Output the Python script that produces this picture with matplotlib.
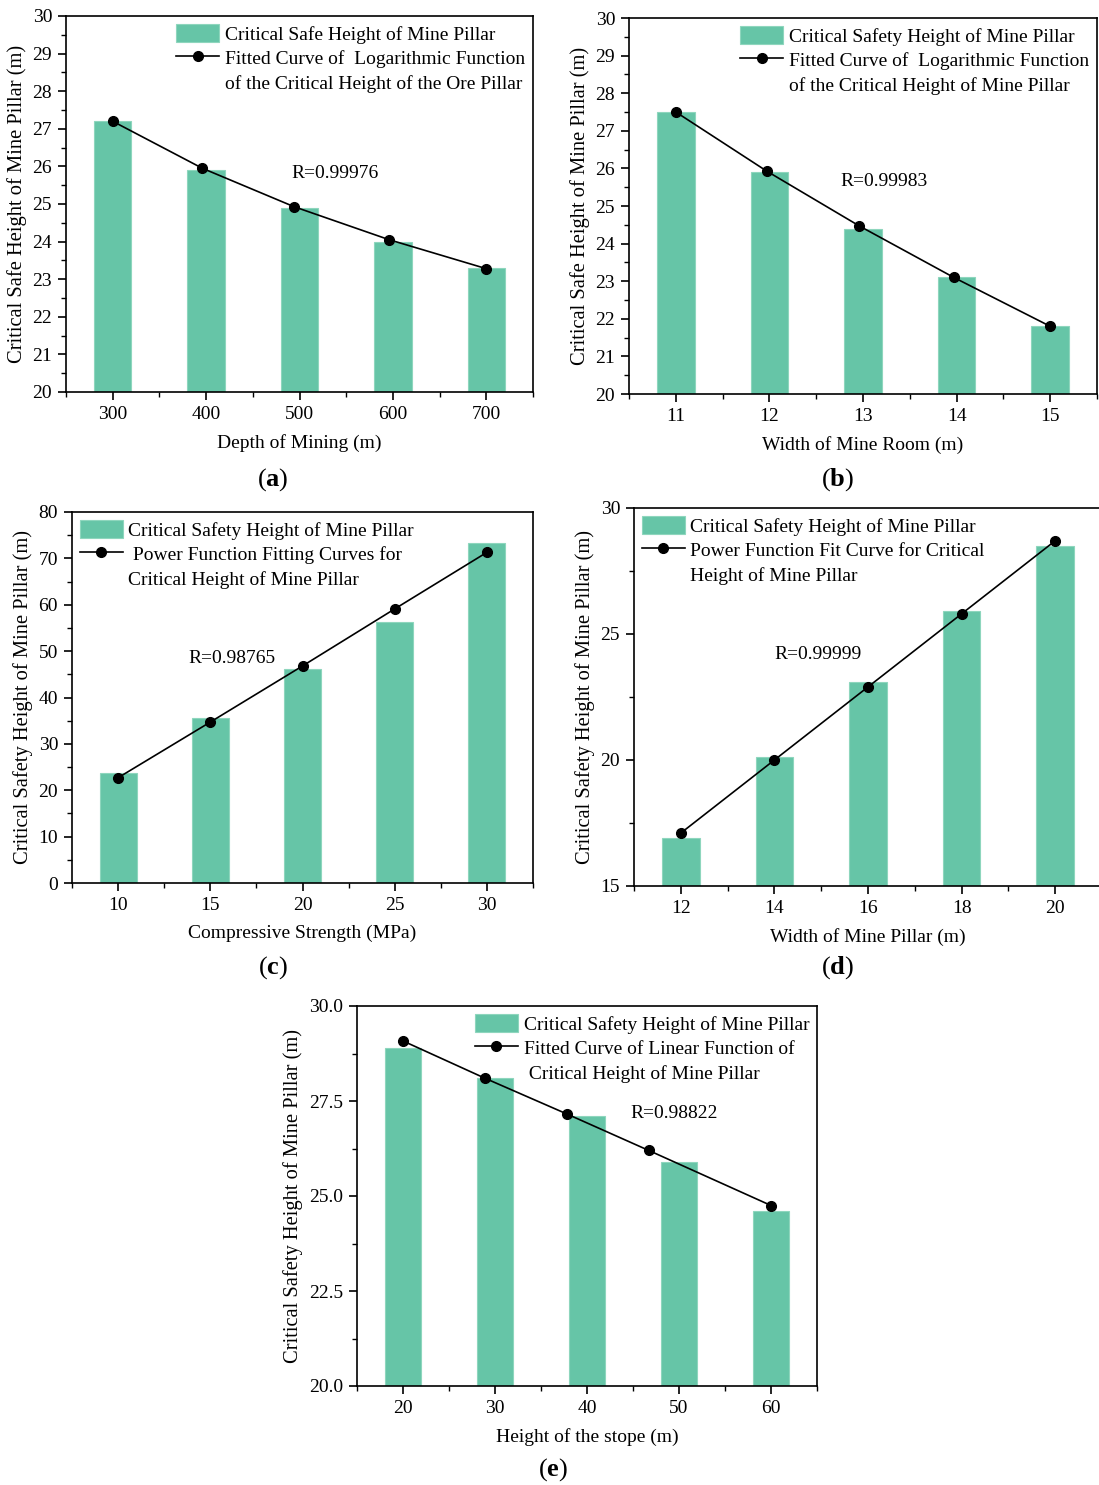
import matplotlib
matplotlib.use("Agg")
import matplotlib.pyplot as plt
from matplotlib.ticker import MultipleLocator
from matplotlib.lines import Line2D

plt.rcParams['font.family'] = ['Liberation Serif', 'DejaVu Serif']
plt.rcParams['mathtext.fontset'] = 'custom'
plt.rcParams['mathtext.bf'] = 'Liberation Serif:bold'
plt.rcParams['mathtext.rm'] = 'Liberation Serif'

# (a) depth of mining
depth = [300, 400, 500, 600, 700]
height_a = [27.2, 25.9, 24.9, 24.0, 23.3]
fit_x_a = [300, 396, 494, 596, 700]
fit_a = [27.2, 25.95, 24.93, 24.05, 23.28]

# (b) width of mine room
room = [11, 12, 13, 14, 15]
height_b = [27.5, 25.9, 24.4, 23.1, 21.8]
fit_x_b = [11, 11.97, 12.96, 13.97, 15]
fit_b = [27.5, 25.93, 24.47, 23.1, 21.8]

# (c) compressive strength
strength = [10, 15, 20, 25, 30]
height_c = [23.7, 35.5, 46.2, 56.3, 73.4]
fit_x_c = [10, 15, 20, 25, 30]
fit_c = [22.7, 34.7, 46.8, 59.1, 71.3]

# (d) width of mine pillar
pillar = [12, 14, 16, 18, 20]
height_d = [16.9, 20.1, 23.1, 25.9, 28.5]
fit_x_d = [12, 14, 16, 18, 20]
fit_d = [17.1, 20.0, 22.9, 25.8, 28.7]

# (e) height of the stope
stope = [20, 30, 40, 50, 60]
height_e = [28.9, 28.1, 27.1, 25.9, 24.6]
fit_x_e = [20, 28.9, 37.8, 46.7, 60]
fit_e = [29.08, 28.1, 27.16, 26.2, 24.75]

bar_color = '#66c5a7'
W, H = 1099, 1485
fig = plt.figure(figsize=(W / 100, H / 100), dpi=100)


def box(l, t, r, b):
    return [l / W, 1 - b / H, (r - l) / W, (b - t) / H]


def panel(rect, x, y, fx, fy, width, xlim, ylim, xmaj, ymaj, ymin,
          xlabel, ylabel, labels, r_text, r_pos, leg_loc, leg_anchor):
    ax = fig.add_axes(box(*rect))
    bars = ax.bar(x, y, width=width, color=bar_color, edgecolor='#8ed6bd',
                  linewidth=0.8, zorder=2)
    line, = ax.plot(fx, fy, color='black', lw=1.2, marker='o', ms=7,
                    zorder=3)
    ax.set_xlim(*xlim)
    ax.set_ylim(*ylim)
    ax.xaxis.set_major_locator(MultipleLocator(xmaj))
    ax.xaxis.set_minor_locator(MultipleLocator(xmaj / 2))
    ax.yaxis.set_major_locator(MultipleLocator(ymaj))
    ax.yaxis.set_minor_locator(MultipleLocator(ymin))
    ax.tick_params(which='major', direction='out', length=6, width=1.2,
                   labelsize=14, pad=4)
    ax.tick_params(which='minor', direction='out', length=3.5, width=1.0)
    for s in ax.spines.values():
        s.set_linewidth(1.2)
    ax.set_xlabel(xlabel, fontsize=14, labelpad=8)
    ax.set_ylabel(ylabel, fontsize=14.8, labelpad=4)
    ax.text(r_pos[0], r_pos[1], r_text, fontsize=14, va='center', ha='left')
    # second line of the fit label sits on its own row with no handle
    blank = Line2D([], [], linestyle='none')
    ax.legend([bars, line, blank], labels, loc=leg_loc,
              bbox_to_anchor=leg_anchor, frameon=False, fontsize=14,
              handlelength=2.2, handleheight=1.1, handletextpad=0.3,
              labelspacing=0.23, borderpad=0.3, borderaxespad=0.1)
    return ax


panel((66, 16, 533, 392), depth, height_a, fit_x_a, fit_a, 40,
      (250, 750), (20, 30), 100, 1, 0.5,
      'Depth of Mining (m)', 'Critical Safe Height of Mine Pillar (m)',
      ['Critical Safe Height of Mine Pillar',
       'Fitted Curve of  Logarithmic Function',
       'of the Critical Height of the Ore Pillar'],
      'R=0.99976', (491, 25.8), 'upper right', (1.0, 1.0))

panel((629, 18, 1097, 394), room, height_b, fit_x_b, fit_b, 0.4,
      (10.5, 15.5), (20, 30), 1, 1, 0.5,
      'Width of Mine Room (m)', 'Critical Safe Height of Mine Pillar (m)',
      ['Critical Safety Height of Mine Pillar',
       'Fitted Curve of  Logarithmic Function',
       'of the Critical Height of Mine Pillar'],
      'R=0.99983', (12.76, 25.66), 'upper right', (1.0, 1.0))

panel((72, 512, 533, 883), strength, height_c, fit_x_c, fit_c, 2,
      (7.5, 32.5), (0, 80), 5, 10, 5,
      'Compressive Strength (MPa)', 'Critical Safety Height of Mine Pillar (m)',
      ['Critical Safety Height of Mine Pillar',
       ' Power Function Fitting Curves for',
       'Critical Height of Mine Pillar'],
      'R=0.98765', (13.8, 48.5), 'upper left', (0.0, 1.0))

panel((634, 508, 1102, 886), pillar, height_d, fit_x_d, fit_d, 0.8,
      (11, 21), (15, 30), 2, 5, 2.5,
      'Width of Mine Pillar (m)', 'Critical Safety Height of Mine Pillar (m)',
      ['Critical Safety Height of Mine Pillar',
       'Power Function Fit Curve for Critical',
       'Height of Mine Pillar'],
      'R=0.99999', (14.0, 24.2), 'upper left', (0.0, 1.0))

panel((357, 1006, 817, 1386), stope, height_e, fit_x_e, fit_e, 4,
      (15, 65), (20, 30), 10, 2.5, 1.25,
      'Height of the stope (m)', 'Critical Safety Height of Mine Pillar (m)',
      ['Critical Safety Height of Mine Pillar',
       'Fitted Curve of Linear Function of',
       ' Critical Height of Mine Pillar'],
      'R=0.98822', (44.7, 27.16), 'upper right', (1.0, 1.0))

for lab, px, py in [('a', 273, 480), ('b', 838, 480), ('c', 273, 968),
                    ('d', 838, 968), ('e', 553, 1470)]:
    fig.text(px / W, 1 - py / H, r'($\mathbf{%s}$)' % lab, fontsize=19,
             ha='center', va='center')

fig.savefig('out.png', dpi=100)
